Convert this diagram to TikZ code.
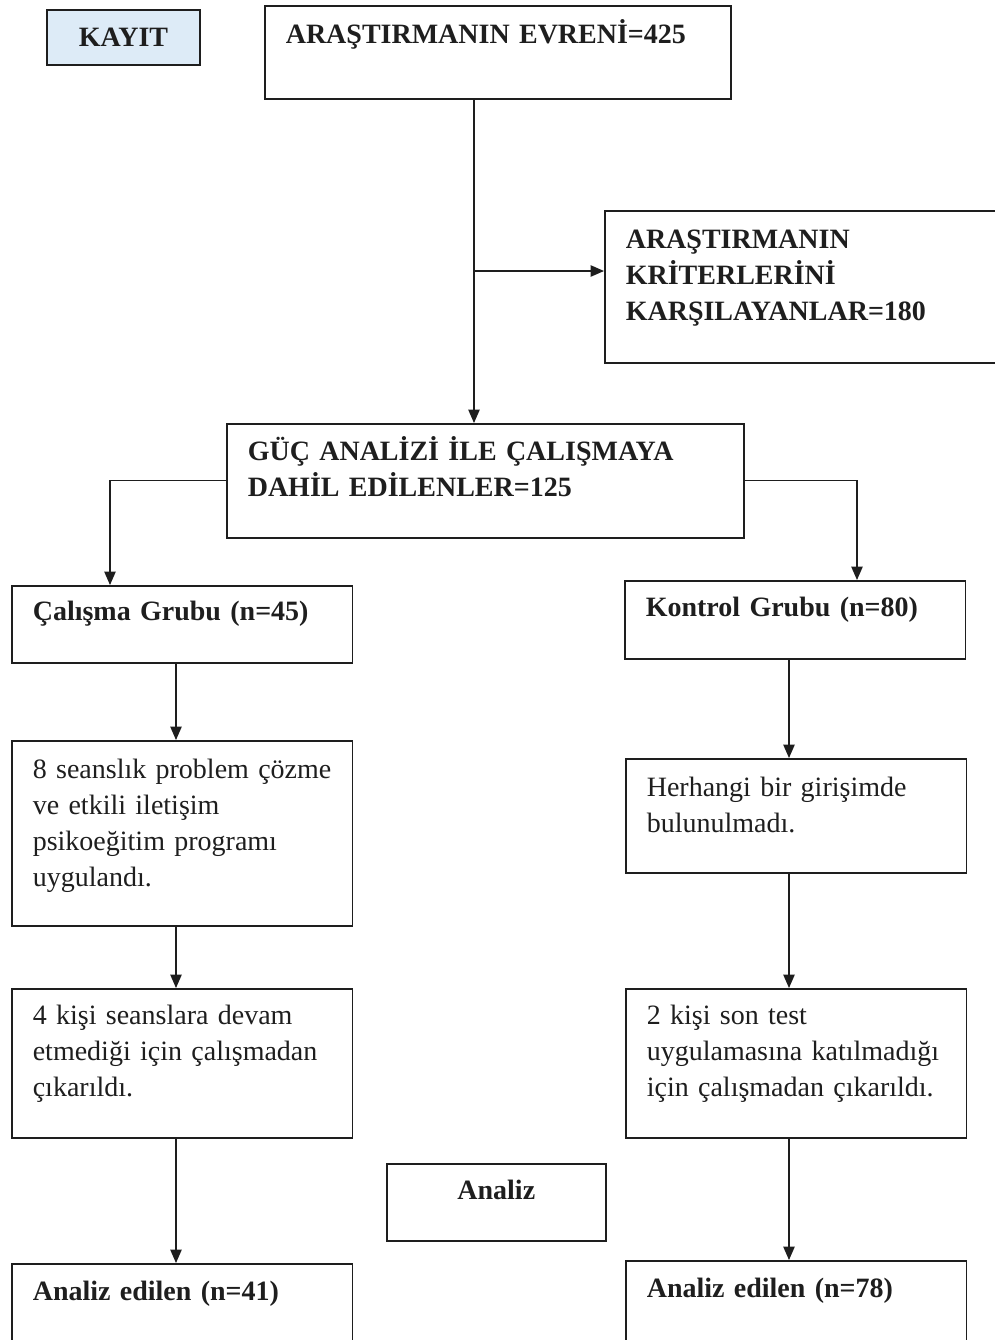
\documentclass[tikz,border=0pt]{standalone}
\usepackage{fontspec}
\setmainfont{Liberation Serif}
\usetikzlibrary{arrows.meta}
\definecolor{kayitblue}{RGB}{221,235,247}
\definecolor{inkgray}{RGB}{30,30,30}
\tikzset{
  stage/.style={draw=inkgray, line width=1.2pt, anchor=north west, align=left,
    inner xsep=15.75pt, inner ysep=0pt, text=inkgray,
    font=\fontsize{21}{26.8}\selectfont\bfseries},
  plainstage/.style={stage, font=\fontsize{21}{26.8}\selectfont},
  tag/.style={draw=inkgray, line width=1.2pt, fill=kayitblue, text=inkgray,
    minimum width=114.75pt, minimum height=41.25pt, inner sep=0pt,
    font=\fontsize{21}{26.8}\selectfont\bfseries},
  flow/.style={draw=inkgray, line width=0.9pt, -{Triangle[length=10pt,width=8.5pt]}}
}
\begin{document}
\begin{tikzpicture}[x=0.75pt,y=-0.75pt]
        \clip (0,0) rectangle (995,1340);

        % Draw the label box in the corner
        \node[tag] (kayit) at (123.5,37.5) {KAYIT};

        % Draw the top box
        \node[stage, text width=318pt, text height=28.5pt, text depth=41.25pt] (evren) at (264,5) {ARAŞTIRMANIN EVRENİ=425};

        % Draw the side box for the criteria
        \node[stage, text width=268.5pt, text height=28.5pt, text depth=85.5pt] (kriter) at (604,210) {ARAŞTIRMANIN\\KRİTERLERİNİ\\KARŞILAYANLAR=180};

        % Draw the power analysis box
        \node[stage, text width=356.25pt, text height=27.75pt, text depth=57.75pt] (guc) at (226,423) {GÜÇ ANALİZİ İLE ÇALIŞMAYA\\DAHİL EDİLENLER=125};

        % Draw the two group boxes
        \node[stage, text width=224pt, text height=26.25pt, text depth=31.5pt] (calisma) at (11,585) {Çalışma Grubu (n=45)};
        \node[stage, text width=224pt, text height=27pt, text depth=31.5pt] (kontrol) at (624,580) {Kontrol Grubu (n=80)};

        % Draw the intervention boxes
        \node[plainstage, text width=224pt, text height=28.5pt, text depth=110.25pt] (seans) at (11,740) {8 seanslık problem çözme\\ve etkili iletişim\\psikoeğitim programı\\uygulandı.};
        \node[plainstage, text width=224pt, text height=28.5pt, text depth=57pt] (girisim) at (625,758) {Herhangi bir girişimde\\bulunulmadı.};

        % Draw the drop-out boxes
        \node[plainstage, text width=224pt, text height=27pt, text depth=84.75pt] (devam) at (11,988) {4 kişi seanslara devam\\etmediği için çalışmadan\\çıkarıldı.};
        \node[plainstage, text width=224pt, text height=27pt, text depth=84.75pt] (sontest) at (625,988) {2 kişi son test\\uygulamasına katılmadığı\\için çalışmadan çıkarıldı.};

        % Draw the analysis boxes
        \node[stage, align=center, text width=132.75pt, text height=27pt, text depth=30.75pt] (analiz) at (386,1163) {Analiz};
        \node[stage, text width=224pt, text height=27.75pt, text depth=37.5pt] (sonL) at (11,1263) {Analiz edilen (n=41)};
        \node[stage, text width=224pt, text height=27.75pt, text depth=39.75pt] (sonR) at (625,1260) {Analiz edilen (n=78)};

        % Columns of the connectors
        \coordinate (trunk) at (474,271);
        \coordinate (splitL) at (110,0);
        \coordinate (splitR) at (857,0);
        \coordinate (lcol) at (176,0);
        \coordinate (rcol) at (789,0);

        % Draw the main trunk and its branch
        \draw[flow] (evren.south -| trunk) -- (guc.north -| trunk);
        \draw[flow] (trunk) -- (trunk -| kriter.west);

        % Draw the split into the two groups
        \draw[flow] (guc.west) -| (calisma.north -| splitL);
        \draw[flow] (guc.east) -| (kontrol.north -| splitR);

        % Draw the left column
        \draw[flow] (calisma.south -| lcol) -- (seans.north -| lcol);
        \draw[flow] (seans.south -| lcol) -- (devam.north -| lcol);
        \draw[flow] (devam.south -| lcol) -- (sonL.north -| lcol);

        % Draw the right column
        \draw[flow] (kontrol.south -| rcol) -- (girisim.north -| rcol);
        \draw[flow] (girisim.south -| rcol) -- (sontest.north -| rcol);
        \draw[flow] (sontest.south -| rcol) -- (sonR.north -| rcol);
\end{tikzpicture}
\end{document}
